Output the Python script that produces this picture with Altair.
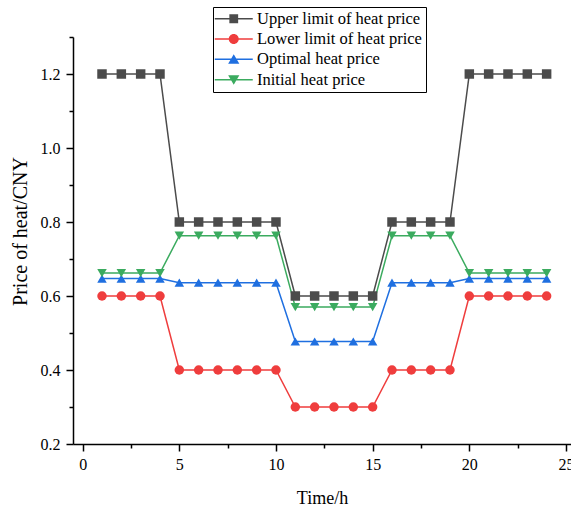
import altair as alt
import pandas as pd

# Hourly heat prices (CNY) for a 24-hour day
hours = list(range(1, 25))
upper_limit = [1.2, 1.2, 1.2, 1.2, 0.8, 0.8, 0.8, 0.8, 0.8, 0.8, 0.6, 0.6,
               0.6, 0.6, 0.6, 0.8, 0.8, 0.8, 0.8, 1.2, 1.2, 1.2, 1.2, 1.2]
lower_limit = [0.6, 0.6, 0.6, 0.6, 0.4, 0.4, 0.4, 0.4, 0.4, 0.4, 0.3, 0.3,
               0.3, 0.3, 0.3, 0.4, 0.4, 0.4, 0.4, 0.6, 0.6, 0.6, 0.6, 0.6]
optimal = [0.647, 0.647, 0.647, 0.647, 0.636, 0.636, 0.636, 0.636, 0.636, 0.636,
           0.477, 0.477, 0.477, 0.477, 0.477, 0.636, 0.636, 0.636, 0.636,
           0.647, 0.647, 0.647, 0.647, 0.647]
initial = [0.662, 0.662, 0.662, 0.662, 0.763, 0.763, 0.763, 0.763, 0.763, 0.763,
           0.570, 0.570, 0.570, 0.570, 0.570, 0.763, 0.763, 0.763, 0.763,
           0.662, 0.662, 0.662, 0.662, 0.662]

series_names = ["Upper limit of heat price", "Lower limit of heat price",
                "Optimal heat price", "Initial heat price"]
series_values = [upper_limit, lower_limit, optimal, initial]
series_colors = ["#4b4b4b", "#ef3d3d", "#1f6fe0", "#3bab5f"]
series_shapes = ["square", "circle", "triangle-up", "triangle-down"]

y_major = [0.2, 0.4, 0.6, 0.8, 1.0, 1.2]
y_minor = [0.3, 0.5, 0.7, 0.9, 1.1, 1.3]
x_major = [0, 5, 10, 15, 20, 25]
x_minor = [2.5, 7.5, 12.5, 17.5, 22.5]

rows = []
for name, vals in zip(series_names, series_values):
    for h, v in zip(hours, vals):
        rows.append({"hour": h, "price": v, "series": name})
df = pd.DataFrame(rows)

FONT = "Liberation Serif"
x_scale = alt.Scale(domain=[-0.5, 25.26], nice=False, zero=False)
y_scale = alt.Scale(domain=[0.2, 1.3], nice=False, zero=False)
color_scale = alt.Scale(domain=series_names, range=series_colors)

# Legend glyphs: a thin bar (the line) with the series marker in its middle.
# All sub-paths wind clockwise so the overlap stays filled.
LINE = "M-2.5,-0.19H7V0.19H-2.5Z"
legend_glyphs = [
    LINE + "M1.15,-1.1H3.35V1.1H1.15Z",
    LINE + "M1,0A1.25,1.25 0 1,1 3.5,0A1.25,1.25 0 1,1 1,0Z",
    LINE + "M2.25,-1.25L3.65,1.1L0.85,1.1Z",
    LINE + "M0.85,-1.1L3.65,-1.1L2.25,1.25Z",
]
glyph_scale = alt.Scale(domain=series_names, range=legend_glyphs)

legend = alt.Legend(
    title=None, orient="none", legendX=140, legendY=-30,
    strokeColor="black", padding=3.5, rowPadding=3.3,
    labelFont=FONT, labelFontSize=16.5, labelColor="black", labelLimit=400,
    labelOffset=24, symbolSize=64, symbolStrokeWidth=0, symbolOpacity=1,
)

base = alt.Chart(df)

# Invisible marks that only carry the legend (first, so its legend settings win)
legend_layer = base.mark_point(filled=True, opacity=0).encode(
    x=alt.X("hour:Q", scale=x_scale, axis=None),
    y=alt.Y("price:Q", scale=y_scale, axis=None),
    color=alt.Color("series:N", scale=color_scale, legend=legend),
    shape=alt.Shape("series:N", scale=glyph_scale, legend=legend),
)

lines = base.mark_line(strokeWidth=1.5).encode(
    x=alt.X("hour:Q", scale=x_scale,
            axis=alt.Axis(values=x_major, title="Time/h", tickSize=7,
                          labelPadding=5, titlePadding=17, titleFontSize=18,
                          format="d")),
    y=alt.Y("price:Q", scale=y_scale,
            axis=alt.Axis(values=y_major, title="Price of heat/CNY", tickSize=7,
                          labelPadding=6, titlePadding=10, titleFontSize=20,
                          titleY=194, format=".1f")),
    color=alt.Color("series:N", scale=color_scale, legend=None),
    detail="series:N",
)

# Markers, one layer per series so each keeps its own symbol
marker_layers = []
for i, (name, shape) in enumerate(zip(series_names, series_shapes)):
    enc = dict(
        color=alt.Color("series:N", scale=color_scale, legend=None),
    )
    if i == 0:
        enc["x"] = alt.X("hour:Q", scale=x_scale,
                         axis=alt.Axis(values=x_minor, orient="bottom", labels=False,
                                       domain=False, tickSize=4, title=None))
        enc["y"] = alt.Y("price:Q", scale=y_scale,
                         axis=alt.Axis(values=y_minor, orient="left", labels=False,
                                       domain=False, tickSize=4, title=None))
    else:
        enc["x"] = alt.X("hour:Q", scale=x_scale, axis=None)
        enc["y"] = alt.Y("price:Q", scale=y_scale, axis=None)
    marker_layers.append(
        base.transform_filter(alt.datum.series == name)
        .mark_point(filled=True, size=90, opacity=1, shape=shape)
        .encode(**enc)
    )

chart = alt.layer(legend_layer, lines, *marker_layers).resolve_axis(
    x="independent", y="independent"
).properties(
    width=498, height=407,
    autosize=alt.AutoSizeParams(type="none"),
    padding={"left": 73, "top": 37, "right": 0, "bottom": 65},
    background="white",
).configure_view(stroke=None).configure_axis(
    grid=False, domainColor="black", domainWidth=1.5, tickColor="black",
    tickWidth=1.5, labelFont=FONT, labelFontSize=16, labelColor="black",
    titleFont=FONT, titleColor="black", titleFontWeight="normal",
)

chart.save("out.html", embed_options={"renderer": "svg", "actions": False})
